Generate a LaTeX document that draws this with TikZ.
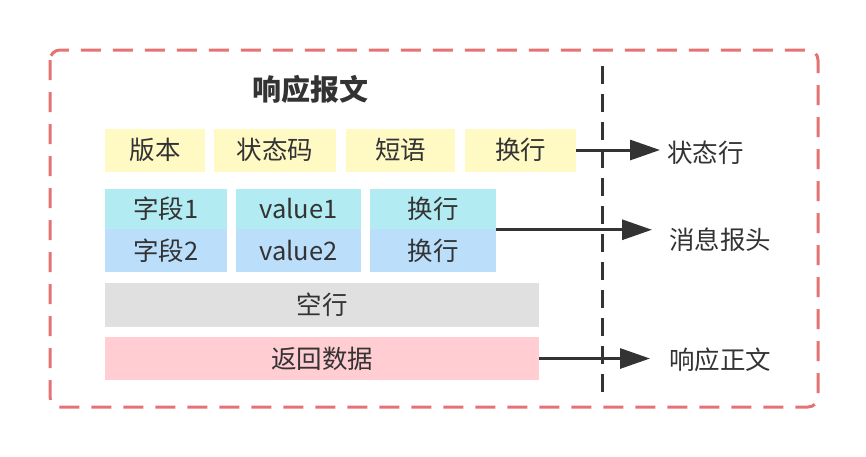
\documentclass[tikz,border=0pt]{standalone}
\usepackage{fontspec}
\setmainfont{Noto Sans CJK SC}
\usepackage{tikz}
\usetikzlibrary{arrows.meta, positioning, calc}
\definecolor{borderred}{HTML}{E57373}
\definecolor{darkline}{HTML}{333333}
\definecolor{rowyellow}{HTML}{FFF9C4}
\definecolor{rowcyan}{HTML}{B2EBF2}
\definecolor{rowblue}{HTML}{BBDEFB}
\definecolor{rowgray}{HTML}{E0E0E0}
\definecolor{rowpink}{HTML}{FFCDD2}

\begin{document}
\begin{tikzpicture}[x=1pt, y=-1pt,
        cell/.style={rectangle, inner sep=0pt, minimum height=43pt, text=darkline, font=\fontsize{25.5}{30}\selectfont},
        lbl/.style={anchor=west, inner sep=0pt, text=darkline, font=\fontsize{25.5}{30}\selectfont},
        arrow/.style={-{Triangle[length=30pt, width=20pt]}, line width=3pt, darkline}
    ]
        \useasboundingbox (0,0) rectangle (866,456);
        \draw[borderred, line width=3pt, dash pattern=on 20pt off 12pt, rounded corners=10pt] (50,50) rectangle (818,407);
        \draw[darkline, line width=3pt, dash pattern=on 18pt off 10pt] (602,66) -- (602,396);

        \node[text=darkline, font=\fontsize{29}{33}\selectfont\bfseries] (title) at (310,89) {响应报文};

        \node[cell, fill=rowyellow, minimum width=100pt] (ver) at (155,150) {版本};
        \node[cell, fill=rowyellow, minimum width=122pt] (code) at (275,150) {状态码};
        \node[cell, fill=rowyellow, minimum width=109pt] (phrase) at (400.5,150) {短语};
        \node[cell, fill=rowyellow, minimum width=111pt] (hl1) at (520.5,150) {换行};

        \node[cell, fill=rowcyan, minimum width=122pt, minimum height=40pt] (field1) at (166,209) {字段1};
        \node[cell, fill=rowcyan, minimum width=125pt, minimum height=40pt] (value1) at (298.5,209) {value1};
        \node[cell, fill=rowcyan, minimum width=126pt, minimum height=40pt] (hl2) at (433,209) {换行};

        \node[cell, fill=rowblue, minimum width=122pt] (field2) at (166,250.5) {字段2};
        \node[cell, fill=rowblue, minimum width=125pt] (value2) at (298.5,250.5) {value2};
        \node[cell, fill=rowblue, minimum width=126pt] (hl3) at (433,250.5) {换行};

        \node[cell, fill=rowgray, minimum width=434pt, minimum height=44pt] (blank) at (322,305) {空行};
        \node[cell, fill=rowpink, minimum width=434pt] (body) at (322,358.5) {返回数据};

        \node[lbl] (statusline) at (667,153) {状态行};
        \node[lbl] (header) at (669,240) {消息报头};
        \node[lbl] (content) at (669,360) {响应正文};

        \coordinate (hdstart) at ($(hl2.east)!0.5!(hl3.east)$);
        \draw[arrow] (hl1.east) -- ($(hl1.east -| statusline.west)+(-7,0)$);
        \draw[arrow] (hdstart) -- ($(hdstart -| header.west)+(-17,0)$);
        \draw[arrow] (body.east) -- ($(body.east -| content.west)+(-19,0)$);
    \end{tikzpicture}
\end{document}
